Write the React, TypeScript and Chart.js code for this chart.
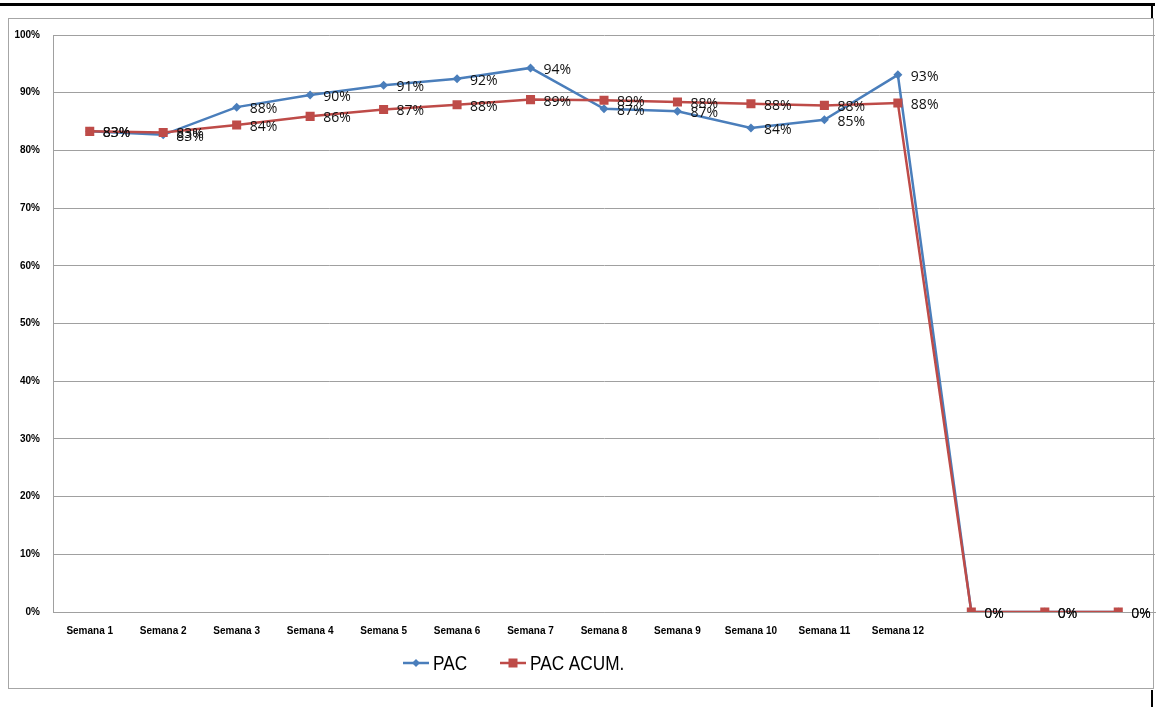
import React, { useEffect, useRef } from "react";
import { Chart, registerables } from "chart.js";

Chart.register(...registerables);

const categories = [
  "Semana 1", "Semana 2", "Semana 3", "Semana 4", "Semana 5", "Semana 6",
  "Semana 7", "Semana 8", "Semana 9", "Semana 10", "Semana 11", "Semana 12",
  "", "", "",
];
const pacValues = [83.3, 82.7, 87.5, 89.6, 91.3, 92.4, 94.3, 87.2, 86.8, 83.9, 85.3, 93.1, 0, 0, 0];
const pacAcumValues = [83.3, 83.1, 84.4, 85.9, 87.1, 87.9, 88.8, 88.7, 88.4, 88.1, 87.8, 88.2, 0, 0, 0];
const seriesNames = ["PAC", "PAC ACUM."];
const yTicks = [0, 10, 20, 30, 40, 50, 60, 70, 80, 90, 100];

const BLUE = "#4A7EBB";
const RED = "#BE4B48";
const LABEL_FONT = "14px 'Open Sans', 'Liberation Sans', sans-serif";

const framePlugin = {
  id: "frame",
  beforeDraw(chart: any) {
    const ctx = chart.ctx;
    ctx.save();
    ctx.fillStyle = "#ffffff";
    ctx.fillRect(0, 0, chart.width, chart.height);
    ctx.strokeStyle = "#a6a6a6";
    ctx.lineWidth = 1;
    ctx.strokeRect(8.5, 18.5, 1145, 670);
    ctx.fillStyle = "#000000";
    ctx.fillRect(0, 3, 1155, 3);
    ctx.fillRect(1151, 3, 2, 15);
    ctx.fillRect(1151, 690, 2, 17);
    ctx.restore();
  },
};

const labelPlugin = {
  id: "valueLabels",
  afterDatasetsDraw(chart: any) {
    const ctx = chart.ctx;
    ctx.save();
    ctx.font = LABEL_FONT;
    ctx.fillStyle = "#111111";
    ctx.textAlign = "left";
    ctx.textBaseline = "middle";
    chart.data.datasets.forEach((ds: any, di: number) => {
      const meta = chart.getDatasetMeta(di);
      meta.data.forEach((pt: any, i: number) => {
        const v = ds.data[i];
        ctx.fillText(Math.round(v) + "%", pt.x + 13, pt.y + 2);
      });
    });
    ctx.restore();
  },
};

const legendPlugin = {
  id: "customLegend",
  afterDraw(chart: any) {
    const ctx = chart.ctx;
    ctx.save();
    const y = 663;
    const items = [
      { name: seriesNames[0], color: BLUE, style: "diamond", x: 403 },
      { name: seriesNames[1], color: RED, style: "square", x: 500 },
    ];
    ctx.font = "20px 'Liberation Sans', sans-serif";
    ctx.textBaseline = "middle";
    ctx.textAlign = "left";
    items.forEach((it) => {
      ctx.strokeStyle = it.color;
      ctx.lineWidth = 2.5;
      ctx.beginPath();
      ctx.moveTo(it.x, y);
      ctx.lineTo(it.x + 26, y);
      ctx.stroke();
      ctx.fillStyle = it.color;
      const cx = it.x + 13;
      if (it.style === "diamond") {
        ctx.beginPath();
        ctx.moveTo(cx, y - 4);
        ctx.lineTo(cx + 4, y);
        ctx.lineTo(cx, y + 4);
        ctx.lineTo(cx - 4, y);
        ctx.closePath();
        ctx.fill();
      } else {
        ctx.fillRect(cx - 4.5, y - 4.5, 9, 9);
      }
      ctx.fillStyle = "#000000";
      ctx.save();
      ctx.translate(it.x + 30, y + 1);
      ctx.scale(0.86, 1.05);
      ctx.fillText(it.name, 0, 0);
      ctx.restore();
    });
    ctx.restore();
  },
};

export default function App() {
  const canvasRef = useRef<HTMLCanvasElement | null>(null);

  useEffect(() => {
    if (!canvasRef.current) return;
    const chart = new Chart(canvasRef.current, {
      type: "line",
      data: {
        labels: categories,
        datasets: [
          {
            label: seriesNames[0],
            data: pacValues,
            borderColor: BLUE,
            backgroundColor: BLUE,
            borderWidth: 2.5,
            pointStyle: "rectRot",
            pointRadius: 4.5,
            pointBorderWidth: 0,
            tension: 0,
            order: 1,
          },
          {
            label: seriesNames[1],
            data: pacAcumValues,
            borderColor: RED,
            backgroundColor: RED,
            borderWidth: 2.5,
            pointStyle: "rect",
            pointRadius: 6.4,
            pointBorderWidth: 0,
            tension: 0,
            order: 0,
          },
        ],
      },
      options: {
        animation: false,
        responsive: false,
        maintainAspectRatio: false,
        layout: { autoPadding: false, padding: { top: 35, right: 1, bottom: 0, left: 0 } },
        plugins: {
          legend: { display: false },
          tooltip: { enabled: false },
        },
        scales: {
          x: {
            offset: true,
            grid: { display: false, drawTicks: false },
            border: { display: true, color: "#a0a0a0", width: 1 },
            ticks: {
              color: "#000000",
              font: { family: "'Liberation Sans', sans-serif", size: 10, weight: "bold" },
              padding: 13,
              maxRotation: 0,
              autoSkip: false,
            },
            afterFit(scale: any) {
              scale.height = 95;
            },
          },
          y: {
            min: 0,
            max: 100,
            afterBuildTicks(scale: any) {
              scale.ticks = yTicks.map((v) => ({ value: v }));
            },
            grid: { color: "#a0a0a0", lineWidth: 1, drawTicks: false },
            border: { display: true, color: "#a0a0a0", width: 1 },
            ticks: {
              color: "#000000",
              font: { family: "'Liberation Sans', sans-serif", size: 10, weight: "bold" },
              padding: 13,
              callback: (v: any) => v + "%",
            },
            afterFit(scale: any) {
              scale.width = 53;
            },
          },
        },
      },
      plugins: [framePlugin, labelPlugin, legendPlugin],
    });
    return () => chart.destroy();
  }, []);

  return (
    <div style={{ position: "fixed", left: 0, top: 0, width: 1156, height: 707, background: "#fff" }}>
      <canvas ref={canvasRef} width={1156} height={707} style={{ display: "block" }} />
    </div>
  );
}
